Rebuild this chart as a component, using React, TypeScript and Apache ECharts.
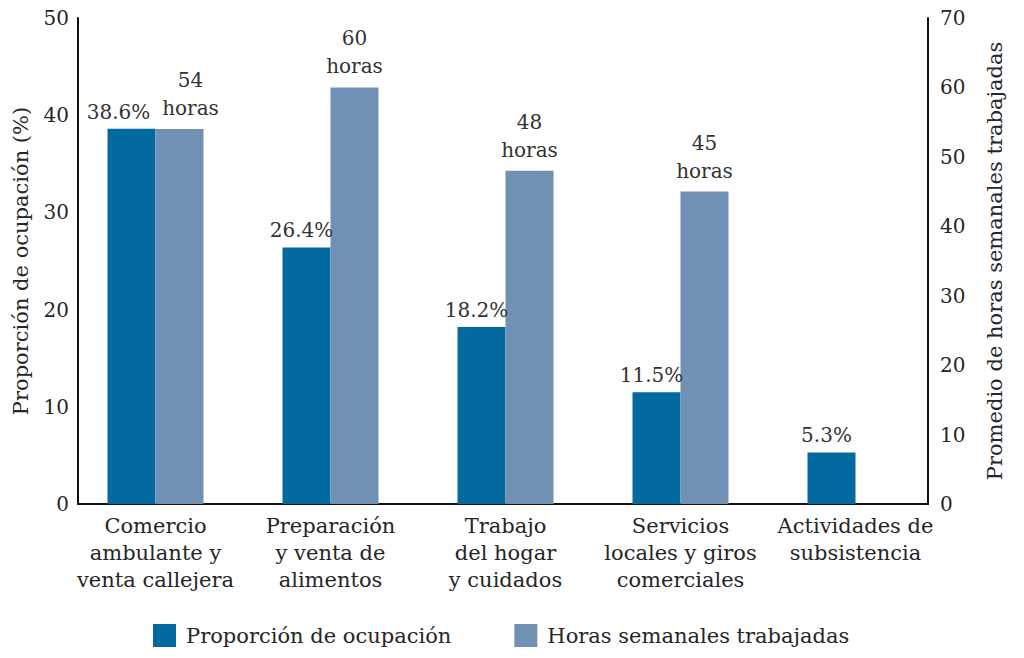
import React, { useEffect, useRef } from "react";
import * as echarts from "echarts";

const categories = [
  "Comercio\nambulante y\nventa callejera",
  "Preparación\ny venta de\nalimentos",
  "Trabajo\ndel hogar\ny cuidados",
  "Servicios\nlocales y giros\ncomerciales",
  "Actividades de\nsubsistencia",
];
const proporcion = [38.6, 26.4, 18.2, 11.5, 5.3];
const horas: (number | null)[] = [54, 60, 48, 45, null];
const seriesNames = ["Proporción de ocupación", "Horas semanales trabajadas"];
const leftTicks = { min: 0, max: 50, interval: 10 };
const rightTicks = { min: 0, max: 70, interval: 10 };

const FONT = "DejaVu Serif";
const DARK = "#026a9e";
const LIGHT = "#7091b4";
const TXT = "#262626";

export default function App() {
  const ref = useRef<HTMLDivElement>(null);
  useEffect(() => {
    document.body.style.margin = "0";
    if (!ref.current) return;
    const chart = echarts.init(ref.current, null, { renderer: "svg" });
    const axisLineStyle = { color: "#111", width: 2 };
    chart.setOption({
      animation: false,
      textStyle: { fontFamily: FONT, color: TXT },
      grid: [
        { left: 68, right: 81, top: 18, bottom: 154 },
        { left: 78, right: 96, top: 18, bottom: 154 },
      ],
      legend: {
        left: 148,
        top: 619,
        itemWidth: 23,
        itemHeight: 23,
        itemGap: 63,
        icon: "rect",
        textStyle: { fontFamily: FONT, fontSize: 21, color: TXT, padding: [0, 0, 0, 5] },
        data: seriesNames,
      },
      xAxis: [
        {
          type: "category",
          gridIndex: 0,
          data: categories,
          axisLine: { show: false },
          axisTick: { show: false },
          axisLabel: {
            fontFamily: FONT,
            fontSize: 21,
            color: TXT,
            lineHeight: 27,
            margin: 8,
            interval: 0,
          },
        },
        {
          type: "value",
          gridIndex: 1,
          min: 0,
          max: 1,
          axisLine: { show: true, onZero: false, lineStyle: axisLineStyle },
          axisTick: { show: false },
          axisLabel: { show: false },
          splitLine: { show: false },
        },
      ],
      yAxis: [
        { type: "value", gridIndex: 0, ...leftTicks, show: false, splitLine: { show: false } },
        { type: "value", gridIndex: 0, ...rightTicks, show: false, splitLine: { show: false } },
        {
          type: "value",
          gridIndex: 1,
          position: "left",
          ...leftTicks,
          name: "Proporción de ocupación (%)",
          nameLocation: "middle",
          nameGap: 47,
          nameTextStyle: { fontFamily: FONT, fontSize: 21, color: TXT },
          axisLine: { show: true, lineStyle: axisLineStyle },
          axisTick: { show: false },
          splitLine: { show: false },
          axisLabel: { fontFamily: FONT, fontSize: 20, color: TXT, margin: 9 },
        },
        {
          type: "value",
          gridIndex: 1,
          position: "right",
          ...rightTicks,
          name: "Promedio de horas semanales trabajadas",
          nameLocation: "middle",
          nameGap: 56,
          nameTextStyle: { fontFamily: FONT, fontSize: 21, color: TXT },
          axisLine: { show: true, lineStyle: axisLineStyle },
          axisTick: { show: false },
          splitLine: { show: false },
          axisLabel: { fontFamily: FONT, fontSize: 20, color: TXT, margin: 12 },
        },
      ],
      series: [
        {
          name: seriesNames[0],
          type: "bar",
          xAxisIndex: 0,
          yAxisIndex: 0,
          data: proporcion.map((v, i) =>
            i === 0 ? { value: v, label: { offset: [-13, 0] } } : v
          ),
          barWidth: 48,
          barGap: "0%",
          itemStyle: { color: DARK },
          label: {
            show: true,
            position: "top",
            distance: 7,
            offset: [-5, 0],
            fontFamily: FONT,
            fontSize: 20,
            color: "#333",
            formatter: (p: any) => `${p.value}%`,
          },
        },
        {
          name: seriesNames[1],
          type: "bar",
          xAxisIndex: 0,
          yAxisIndex: 1,
          data: horas.map((v, i) =>
            i === 0 ? { value: v, label: { offset: [11, 0] } } : v
          ),
          barWidth: 48,
          barGap: "0%",
          itemStyle: { color: LIGHT },
          label: {
            show: true,
            position: "top",
            distance: 7,
            fontFamily: FONT,
            fontSize: 20,
            lineHeight: 28,
            color: "#333",
            formatter: (p: any) => `${p.value}\nhoras`,
          },
        },
      ],
    });
    return () => chart.dispose();
  }, []);
  return <div ref={ref} style={{ width: 1024, height: 658 }} />;
}
